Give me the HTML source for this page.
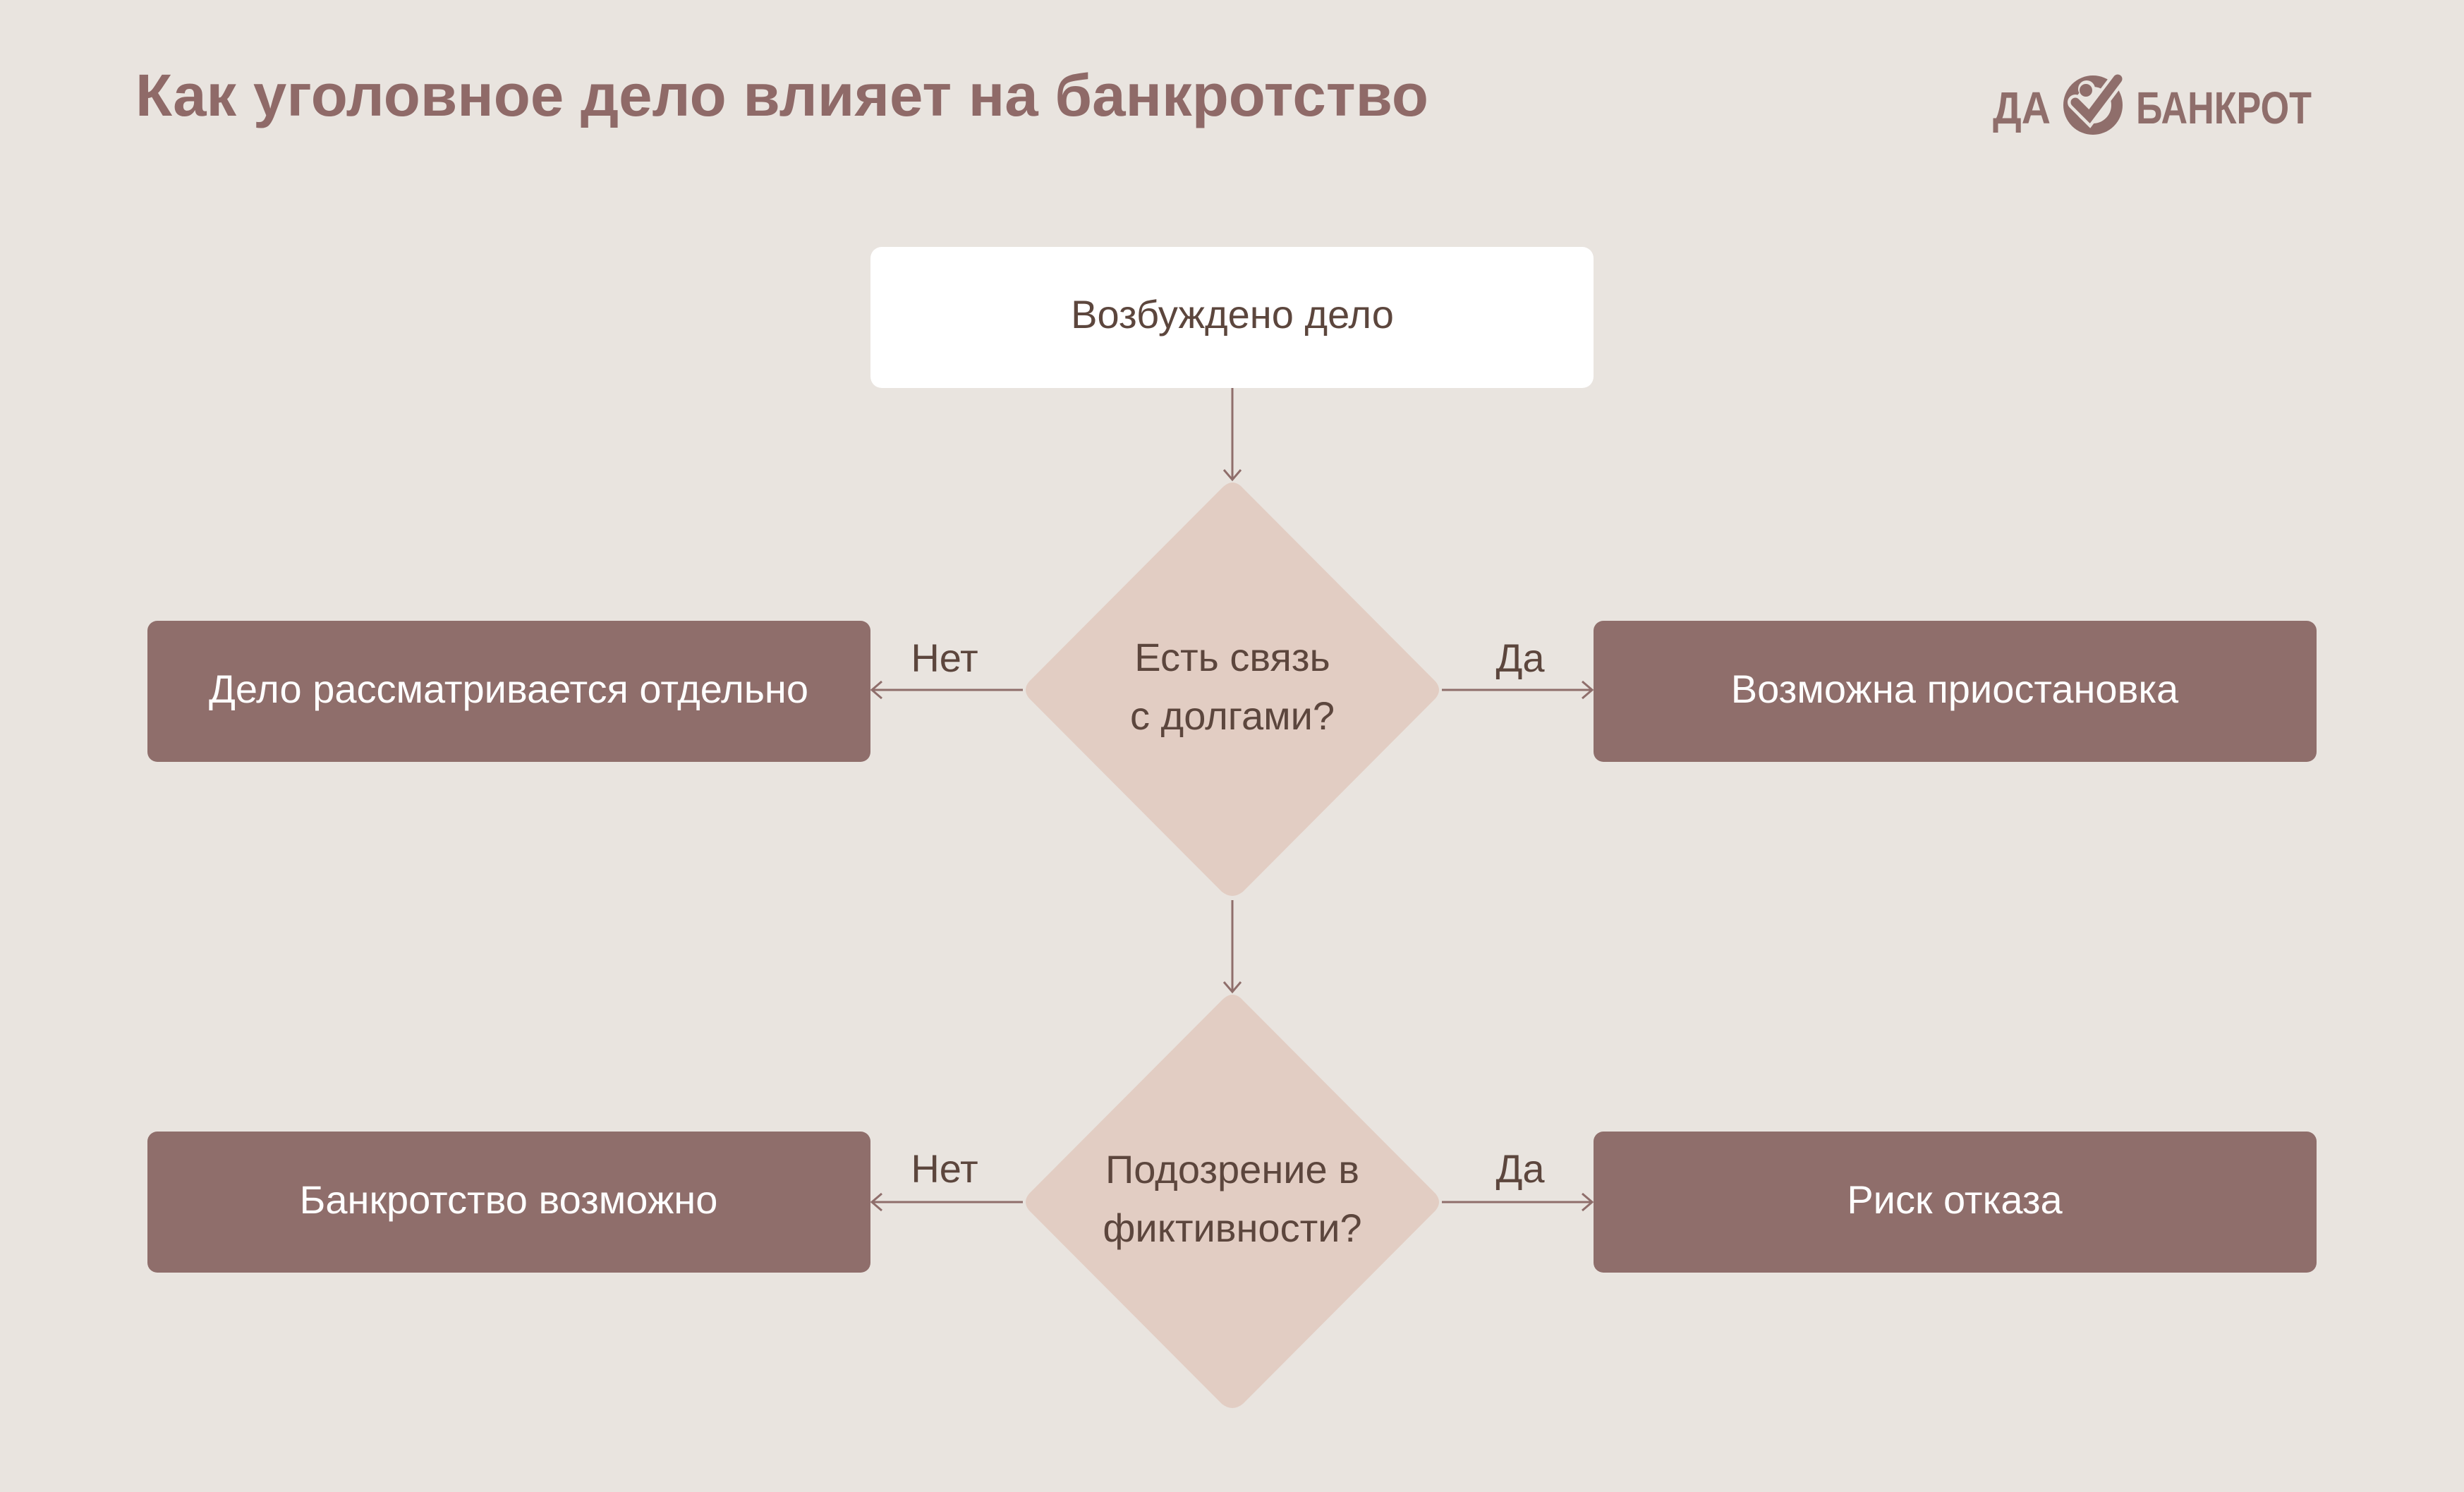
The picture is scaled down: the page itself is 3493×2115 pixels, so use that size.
<!DOCTYPE html>
<html><head><meta charset="utf-8"><style>
html,body{margin:0;padding:0;}
body{width:3493px;height:2110px;background:#e9e4df;overflow:hidden;}
text{font-family:"Liberation Sans","DejaVu Sans",sans-serif;}
</style></head><body>
<svg width="3493" height="2110" viewBox="0 0 3493 2110" xmlns="http://www.w3.org/2000/svg">
<rect width="3493" height="2110" fill="#e9e4df"/>
<text x="192" y="164" font-size="84" font-weight="bold" fill="#8f6a68" textLength="1833" lengthAdjust="spacingAndGlyphs">Как уголовное дело влияет на банкротство</text>
<!-- logo -->
<text x="2825" y="175" font-size="64" font-weight="bold" fill="#8f6e6b" textLength="82" lengthAdjust="spacingAndGlyphs">ДА</text>
<circle cx="2967" cy="149" r="34" fill="none" stroke="#8f6e6b" stroke-width="16"/>
<circle cx="2958" cy="126" r="12" fill="#e9e4df"/>
<path d="M2942 145 L2962 165 L3002 112" fill="none" stroke="#e9e4df" stroke-width="22" stroke-linecap="round"/>
<path d="M2942 145 L2962 165 L3002 112" fill="none" stroke="#8f6e6b" stroke-width="13" stroke-linecap="round"/>
<circle cx="2957" cy="128" r="9" fill="#8f6e6b"/>
<text x="3028" y="175" font-size="64" font-weight="bold" fill="#8f6e6b" textLength="249" lengthAdjust="spacingAndGlyphs">БАНКРОТ</text>
<g fill="none" stroke="#8f6e6b" stroke-width="3">
<line x1="1747" y1="550" x2="1747" y2="680"/><path d="M1735 666 L1747 680 L1759 666"/>
<line x1="1747" y1="1276" x2="1747" y2="1406"/><path d="M1735 1392 L1747 1406 L1759 1392"/>
<line x1="1450" y1="978" x2="1236" y2="978"/><path d="M1250 966 L1236 978 L1250 990"/>
<line x1="2044" y1="978" x2="2257" y2="978"/><path d="M2243 966 L2257 978 L2243 990"/>
<line x1="1450" y1="1704" x2="1236" y2="1704"/><path d="M1250 1692 L1236 1704 L1250 1716"/>
<line x1="2044" y1="1704" x2="2257" y2="1704"/><path d="M2243 1692 L2257 1704 L2243 1716"/>
</g>
<rect x="1234" y="350" width="1025" height="200" rx="16" fill="#ffffff"/>
<text x="1747" y="465" font-size="56" fill="#5c463d" text-anchor="middle">Возбуждено дело</text>
<path d="M1747 684 Q1755 684 1762 692 L2035 966 Q2045 978 2035 990 L1762 1264 Q1747 1276 1732 1264 L1459 990 Q1449 978 1459 966 L1732 692 Q1740 684 1747 684 Z" fill="#e2cdc3"/>
<text x="1747" y="951" font-size="56" fill="#5c463d" text-anchor="middle">Есть связь</text>
<text x="1747" y="1034" font-size="56" fill="#5c463d" text-anchor="middle">с долгами?</text>
<path d="M1747 1410 Q1755 1410 1762 1418 L2035 1692 Q2045 1704 2035 1716 L1762 1990 Q1747 2002 1732 1990 L1459 1716 Q1449 1704 1459 1692 L1732 1418 Q1740 1410 1747 1410 Z" fill="#e2cdc3"/>
<text x="1747" y="1677" font-size="56" fill="#5c463d" text-anchor="middle">Подозрение в</text>
<text x="1747" y="1760" font-size="56" fill="#5c463d" text-anchor="middle">фиктивности?</text>
<g fill="#8f6e6b">
<rect x="209" y="880" width="1025" height="200" rx="14"/>
<rect x="2259" y="880" width="1025" height="200" rx="14"/>
<rect x="209" y="1604" width="1025" height="200" rx="14"/>
<rect x="2259" y="1604" width="1025" height="200" rx="14"/>
</g>
<g font-size="56" fill="#ffffff" text-anchor="middle">
<text x="721" y="996">Дело рассматривается отдельно</text>
<text x="2771" y="996">Возможна приостановка</text>
<text x="721" y="1720">Банкротство возможно</text>
<text x="2771" y="1720">Риск отказа</text>
</g>
<g font-size="56" fill="#5c463d" text-anchor="middle">
<text x="1339" y="952">Нет</text>
<text x="2155" y="952">Да</text>
<text x="1339" y="1676">Нет</text>
<text x="2155" y="1676">Да</text>
</g>
</svg>
</body></html>
